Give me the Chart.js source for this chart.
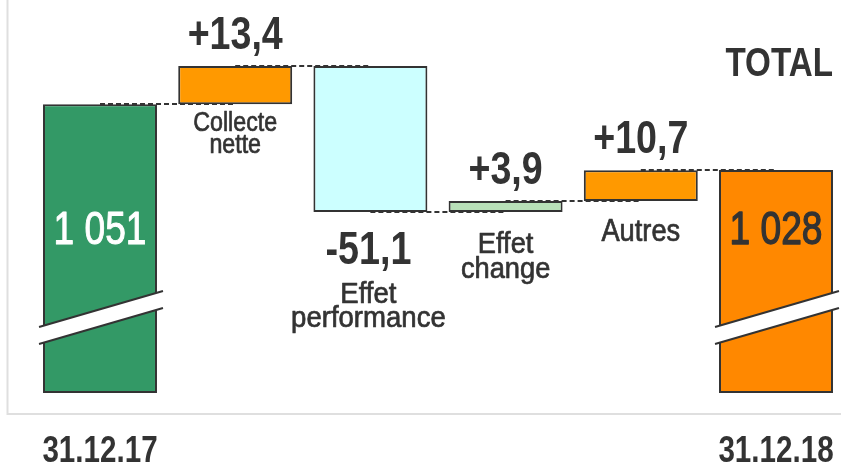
<!DOCTYPE html>
<html>
<head>
<meta charset="utf-8">
<script src="https://cdn.jsdelivr.net/npm/chart.js@4"></script>
<style>
html, body { margin: 0; padding: 0; background: #fff; }
#wrap { width: 841px; height: 463px; }
</style>
</head>
<body>
<div id="wrap"><canvas id="waterfall"></canvas></div>
<script>
const categories = ['31.12.17', 'Collecte nette', 'Effet performance', 'Effet change', 'Autres', '31.12.18'];
const tickLabels = ['31.12.17', '', '', '', '', '31.12.18'];
const startTotal = 1051;
const endTotal = 1028;
const changes = [13.4, -51.1, 3.9, 10.7];
const changeLabels = ['+13,4', '-51,1', '+3,9', '+10,7'];
const stepNames = [['Collecte', 'nette'], ['Effet', 'performance'], ['Effet', 'change'], ['Autres']];
const totalLabels = ['1 051', '1 028'];
const breakBase = 950; // axis is cut, the two totals start here
const barColors = ['#339966', '#ff9900', '#ccffff', '#b8e0b8', '#ff9900', '#ff8800'];

// floating bars [from, to]
let level = startTotal;
const bars = [[breakBase, startTotal]];
changes.forEach(c => {
    bars.push([level, level + c]);
    level += c;
});
bars.push([breakBase, endTotal]);

// the reference uses a condensed face; squeeze Liberation Sans horizontally
const FONT = '"Liberation Sans", Arial, sans-serif';

function squeezed(ctx, text, x, y, size, sx, opts) {
    opts = opts || {};
    ctx.save();
    ctx.font = (opts.bold ? 'bold ' : '') + size + 'px ' + FONT;
    ctx.textAlign = opts.align || 'center';
    ctx.textBaseline = 'alphabetic';
    ctx.translate(x, y);
    ctx.scale(sx, 1);
    ctx.fillText(text, 0, 0);
    if (opts.stroke) {
        ctx.strokeStyle = ctx.fillStyle;
        ctx.lineWidth = opts.stroke;
        ctx.lineJoin = 'round';
        ctx.strokeText(text, 0, 0);
    }
    ctx.restore();
}

// step name styling: baseline gap under bar, size, squeeze, line height
const nameGap = [27, 91, 41, 40];
const nameSize = [27, 29, 29, 31];
const nameSqueeze = [0.86, 0.95, 0.94, 0.88];
const nameLead = [22, 24, 25, 24];

const decor = {
    id: 'decor',
    beforeDraw(chart) {
        const { ctx, chartArea } = chart;
        ctx.save();
        ctx.strokeStyle = '#dfdfdf';
        ctx.lineWidth = 2;
        ctx.beginPath();
        ctx.moveTo(7.5, 0);
        ctx.lineTo(7.5, chartArea.bottom + 1);
        ctx.lineTo(chart.width, chartArea.bottom + 1);
        ctx.stroke();
        ctx.restore();
    },
    afterDatasetsDraw(chart) {
        const { ctx } = chart;
        const y = chart.scales.y;
        const meta = chart.getDatasetMeta(0).data;

        // dashed connectors between bar levels
        ctx.save();
        ctx.strokeStyle = '#333';
        ctx.lineWidth = 2;
        ctx.setLineDash([5, 3]);
        for (let i = 0; i < bars.length - 1; i++) {
            const py = Math.round(y.getPixelForValue(bars[i][1]));
            ctx.beginPath();
            ctx.moveTo(meta[i].x, py);
            ctx.lineTo(meta[i + 1].x, py);
            ctx.stroke();
        }
        ctx.restore();

        // axis break on the total bars
        [0, bars.length - 1].forEach(i => {
            const b = meta[i];
            const l = b.x - b.width / 2 - 4, r = b.x + b.width / 2 + 6;
            const y1 = b.base - 66, y2 = b.base - 102, gap = 17;
            ctx.save();
            ctx.fillStyle = '#fff';
            ctx.beginPath();
            ctx.moveTo(l, y1);
            ctx.lineTo(r, y2);
            ctx.lineTo(r, y2 + gap);
            ctx.lineTo(l, y1 + gap);
            ctx.closePath();
            ctx.fill();
            ctx.strokeStyle = '#333';
            ctx.lineWidth = 2;
            ctx.beginPath();
            ctx.moveTo(l, y1);
            ctx.lineTo(r, y2);
            ctx.moveTo(l, y1 + gap);
            ctx.lineTo(r, y2 + gap);
            ctx.stroke();
            ctx.restore();
        });

        // labels
        ctx.save();
        ctx.fillStyle = '#333';
        changes.forEach((c, k) => {
            const b = meta[k + 1];
            const top = Math.min(b.y, b.base), bottom = Math.max(b.y, b.base);
            if (c >= 0) squeezed(ctx, changeLabels[k], b.x, top - 17, 47, 0.8, { bold: true });
            else squeezed(ctx, changeLabels[k], b.x - 2, bottom + 52, 46, 0.82, { bold: true });
            stepNames[k].forEach((line, j) =>
                squeezed(ctx, line, b.x - (c < 0 ? 2 : 0), bottom + nameGap[k] + j * nameLead[k],
                    nameSize[k], nameSqueeze[k], { stroke: 0.7 }));
        });

        ctx.fillStyle = '#fff';
        squeezed(ctx, totalLabels[0], meta[0].x, meta[0].base - 149, 47, 0.79, { stroke: 1 });
        ctx.fillStyle = '#333';
        squeezed(ctx, totalLabels[1], meta[5].x, meta[5].base - 149, 47, 0.79, { stroke: 1.4 });

        squeezed(ctx, 'TOTAL', meta[5].x + meta[5].width / 2, 76, 40, 0.83, { bold: true, align: 'right' });

        // date ticks under the totals
        tickLabels.forEach((t, i) => {
            if (t) squeezed(ctx, t, meta[i].x, chart.height - 1, 37, 0.8, { bold: true });
        });
        ctx.restore();
    }
};

new Chart(document.getElementById('waterfall'), {
    type: 'bar',
    data: {
        labels: tickLabels,
        datasets: [{
            label: 'Encours',
            data: bars,
            backgroundColor: barColors,
            borderColor: '#333',
            borderWidth: 2,
            borderSkipped: false,
            categoryPercentage: 1,
            barPercentage: 0.843,
            clip: false
        }]
    },
    options: {
        responsive: true,
        maintainAspectRatio: false,
        animation: false,
        layout: { padding: { left: 100, right: 65, top: 0, bottom: 50 } },
        plugins: { legend: { display: false }, tooltip: { enabled: false } },
        scales: {
            x: { display: false, offset: false },
            y: { display: false, min: 943, max: 1087.5 }
        }
    },
    plugins: [decor]
});
</script>
</body>
</html>
